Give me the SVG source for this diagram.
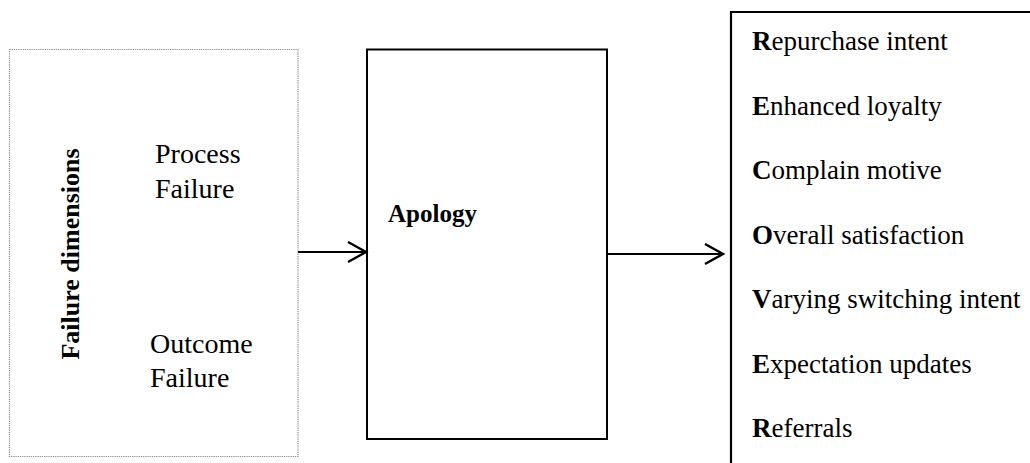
<svg xmlns="http://www.w3.org/2000/svg" width="1030" height="463" viewBox="0 0 1030 463">
<defs>
<marker id="arr" markerUnits="userSpaceOnUse" markerWidth="24" markerHeight="24" refX="20" refY="11" orient="auto">
<path d="M2,1 L20,11 L2,21" fill="none" stroke="#000" stroke-width="2.4"/>
</marker>
</defs>
<rect width="1030" height="463" fill="#fff"/>
<g id="failure-dimensions">
<rect x="9.5" y="49.5" width="288.5" height="407" fill="#fff" stroke="#8a8a8a" stroke-width="1.2" stroke-dasharray="1.2 1"/>
<text font-family="Liberation Serif" font-weight="bold" font-size="26" transform="translate(79,254) rotate(-90)" text-anchor="middle">Failure dimensions</text>
<text font-family="Liberation Serif" font-size="28" x="155" y="163">Process</text>
<text font-family="Liberation Serif" font-size="28" x="155" y="198">Failure</text>
<text font-family="Liberation Serif" font-size="28" x="150" y="353">Outcome</text>
<text font-family="Liberation Serif" font-size="28" x="150" y="387">Failure</text>
</g>
<g id="apology">
<rect x="367" y="49.5" width="240" height="389.5" fill="#fff" stroke="#000" stroke-width="2"/>
<text font-family="Liberation Serif" font-weight="bold" font-size="25" x="388" y="222">Apology</text>
</g>
<g id="outcomes">
<path d="M731,463 L731,12 L1030,12" fill="none" stroke="#000" stroke-width="2.2"/>
<text font-family="Liberation Serif" font-size="27" x="752" y="50"><tspan font-weight="bold">R</tspan>epurchase intent</text>
<text font-family="Liberation Serif" font-size="27" x="752" y="114.5"><tspan font-weight="bold">E</tspan>nhanced loyalty</text>
<text font-family="Liberation Serif" font-size="27" x="752" y="179"><tspan font-weight="bold">C</tspan>omplain motive</text>
<text font-family="Liberation Serif" font-size="27" x="752" y="243.5"><tspan font-weight="bold">O</tspan>verall satisfaction</text>
<text font-family="Liberation Serif" font-size="27" x="752" y="308"><tspan font-weight="bold">V</tspan>arying switching intent</text>
<text font-family="Liberation Serif" font-size="27" x="752" y="372.5"><tspan font-weight="bold">E</tspan>xpectation updates</text>
<text font-family="Liberation Serif" font-size="27" x="752" y="437"><tspan font-weight="bold">R</tspan>eferrals</text>
</g>
<g id="connectors" stroke="#000" stroke-width="2" fill="none">
<line x1="298" y1="252" x2="366" y2="252" marker-end="url(#arr)"/>
<line x1="607" y1="254" x2="723" y2="254" marker-end="url(#arr)"/>
</g>
</svg>
